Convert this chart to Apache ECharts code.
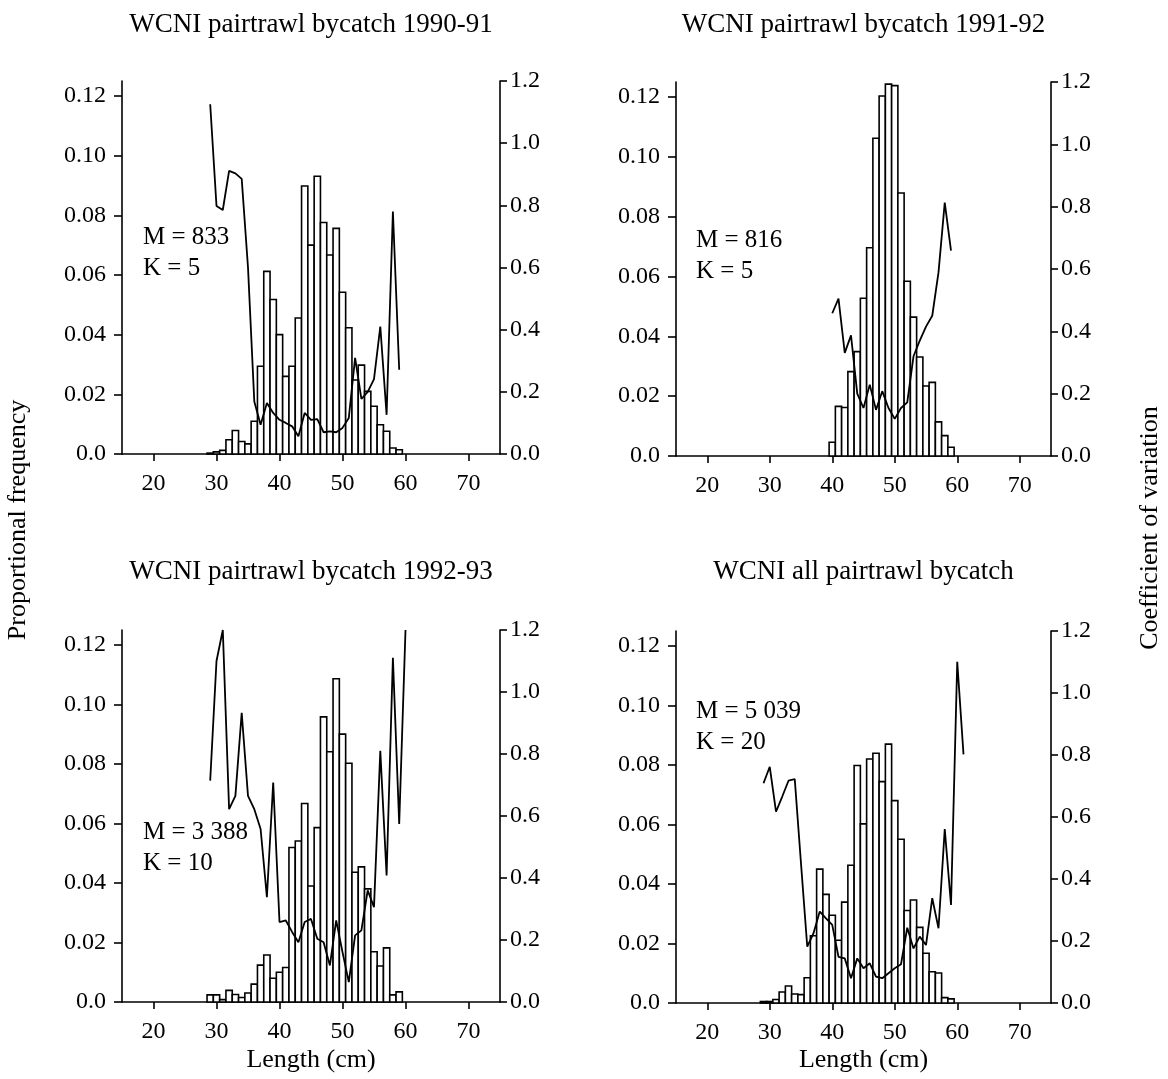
<!DOCTYPE html>
<html>
<head>
<meta charset="utf-8">
<script src="https://cdn.jsdelivr.net/npm/echarts@6/dist/echarts.min.js"></script>
<style>
html,body{margin:0;padding:0;background:#fff;}
#chart{width:1168px;height:1079px;}
</style>
</head>
<body>
<div id="chart"></div>
<script>
// ---------- data ----------
const titles = ['WCNI pairtrawl bycatch 1990-91', 'WCNI pairtrawl bycatch 1991-92',
                'WCNI pairtrawl bycatch 1992-93', 'WCNI all pairtrawl bycatch'];
const annotM = ['M = 833', 'M = 816', 'M = 3 388', 'M = 5 039'];
const annotK = ['K = 5', 'K = 5', 'K = 10', 'K = 20'];
const xTicks = [20, 30, 40, 50, 60, 70];
const freqTicks = [0, 0.02, 0.04, 0.06, 0.08, 0.10, 0.12];

// Panel 1 (1990-91)
const len1 = [29,30,31,32,33,34,35,36,37,38,39,40,41,42,43,44,45,46,47,48,49,50,51,52,53,54,55,56,57,58,59];
const freq1 = [0.0003,0.0007,0.0012,0.0048,0.0079,0.0042,0.0034,0.011,0.0294,0.0612,0.0518,0.040,0.026,0.0294,0.0456,0.0898,0.070,0.0931,0.0776,0.0667,0.0756,0.0542,0.0423,0.0248,0.0298,0.021,0.016,0.0098,0.0076,0.002,0.0014];
const cvLen1 = [29,30,31,32,33,34,35,36,37,38,39,40,41,42,43,44,45,46,47,48,49,50,51,52,53,54,55,56,57,58,59];
const cv1 = [1.125,0.798,0.785,0.911,0.903,0.885,0.60,0.169,0.094,0.164,0.132,0.110,0.100,0.089,0.057,0.132,0.110,0.112,0.070,0.073,0.070,0.084,0.116,0.309,0.177,0.200,0.241,0.410,0.126,0.780,0.271];

// Panel 2 (1991-92)
const len2 = [40,41,42,43,44,45,46,47,48,49,50,51,52,53,54,55,56,57,58,59];
const freq2 = [0.0046,0.0166,0.0162,0.0282,0.0349,0.0527,0.0696,0.1062,0.1203,0.1243,0.1238,0.0879,0.0584,0.0464,0.0331,0.0234,0.0246,0.0114,0.0068,0.0029];
const cvLen2 = [40,41,42,43,44,45,46,47,48,49,50,51,52,53,54,55,56,57,58,59];
const cv2 = [0.458,0.505,0.331,0.387,0.200,0.154,0.229,0.148,0.208,0.154,0.119,0.154,0.172,0.320,0.370,0.415,0.450,0.589,0.813,0.659];

// Panel 3 (1992-93)
const len3 = [29,30,31,32,33,34,35,36,37,38,39,40,41,42,43,44,45,46,47,48,49,50,51,52,53,54,55,56,57,58,59];
const freq3 = [0.0024,0.0024,0.0008,0.0039,0.0025,0.0015,0.003,0.006,0.0124,0.0158,0.008,0.010,0.0116,0.0519,0.0541,0.0667,0.039,0.0586,0.0958,0.0841,0.1086,0.090,0.0802,0.0436,0.0454,0.038,0.0169,0.0121,0.0182,0.0024,0.0034];
const cvLen3 = [29,30,31,32,33,34,35,36,37,38,39,40,41,42,43,44,45,46,47,48,49,50,51,52,53,54,55,56,57,58,59,60];
const cv3 = [0.714,1.100,1.200,0.622,0.665,0.933,0.665,0.622,0.558,0.338,0.708,0.258,0.263,0.226,0.193,0.258,0.268,0.204,0.193,0.118,0.263,0.161,0.064,0.215,0.231,0.360,0.306,0.810,0.408,1.110,0.574,1.200];

// Panel 4 (all)
const len4 = [29,30,31,32,33,34,35,36,37,38,39,40,41,42,43,44,45,46,47,48,49,50,51,52,53,54,55,56,57,58,59];
const freq4 = [0.0005,0.0005,0.0012,0.0037,0.0057,0.003,0.0028,0.0085,0.0226,0.045,0.0365,0.0295,0.0211,0.0339,0.0463,0.0798,0.0602,0.082,0.0839,0.0744,0.087,0.068,0.055,0.0311,0.0346,0.0254,0.0167,0.0105,0.0101,0.0018,0.0014];
const cvLen4 = [29,30,31,32,33,34,35,36,37,38,39,40,41,42,43,44,45,46,47,48,49,50,51,52,53,54,55,56,57,58,59,60,61];
const cv4 = [0.709,0.762,0.617,0.666,0.717,0.722,0.450,0.182,0.225,0.295,0.273,0.252,0.149,0.144,0.080,0.144,0.112,0.128,0.085,0.080,0.096,0.112,0.125,0.243,0.176,0.214,0.187,0.338,0.241,0.561,0.316,1.101,0.802];

// ---------- build ----------
const FONT = '"Liberation Serif", "Times New Roman", serif';
const panels = [
  {len: len1, freq: freq1, cvLen: cvLen1, cv: cv1},
  {len: len2, freq: freq2, cvLen: cvLen2, cv: cv2},
  {len: len3, freq: freq3, cvLen: cvLen3, cv: cv3},
  {len: len4, freq: freq4, cvLen: cvLen4, cv: cv4}
];
const grids = [
  {left: 122, top: 81, width: 378, height: 373},
  {left: 676, top: 82, width: 375, height: 374},
  {left: 122, top: 630, width: 378, height: 372},
  {left: 676, top: 631, width: 375, height: 372}
];
const axLine = {show: true, onZero: false, lineStyle: {color: '#000', width: 1.6}};
const tickStyle = {color: '#000', width: 1.6};
const labelBase = {color: '#000', fontFamily: FONT, fontSize: 24};

const xAxis = [], yAxis = [], series = [], graphic = [];
grids.forEach((g, i) => {
  xAxis.push({
    gridIndex: i, type: 'value', min: 15, max: 75,
    axisLine: axLine,
    axisTick: {show: true, length: 7, customValues: xTicks, lineStyle: tickStyle},
    axisLabel: Object.assign({customValues: xTicks, margin: 18}, labelBase),
    splitLine: {show: false}
  });
  yAxis.push({
    gridIndex: i, type: 'value', position: 'left', min: 0, max: 0.125,
    axisLine: axLine,
    axisTick: {show: true, length: 8, customValues: freqTicks, lineStyle: tickStyle},
    axisLabel: Object.assign({customValues: freqTicks, margin: 16,
      formatter: v => (v === 0 ? '0.0' : v.toFixed(2))}, labelBase),
    splitLine: {show: false}
  });
  yAxis.push({
    gridIndex: i, type: 'value', position: 'right', min: 0, max: 1.2, interval: 0.2,
    axisLine: axLine,
    axisTick: {show: true, length: 7, lineStyle: tickStyle},
    axisLabel: Object.assign({margin: 10, formatter: v => v.toFixed(1)}, labelBase),
    splitLine: {show: false}
  });
  const p = panels[i];
  series.push({
    type: 'custom', xAxisIndex: i, yAxisIndex: 2 * i,
    data: p.len.map((l, k) => [l, p.freq[k]]),
    encode: {x: 0, y: 1},
    renderItem: function (params, api) {
      const x = api.value(0), y = api.value(1);
      const a = api.coord([x - 0.5, y]);
      const b = api.coord([x + 0.5, 0]);
      return {type: 'rect', shape: {x: a[0], y: a[1], width: b[0] - a[0], height: b[1] - a[1]},
              style: {fill: '#fff', stroke: '#000', lineWidth: 1.6}};
    },
    z: 2
  });
  series.push({
    type: 'line', xAxisIndex: i, yAxisIndex: 2 * i + 1,
    data: p.cvLen.map((l, k) => [l, p.cv[k]]),
    showSymbol: false, symbol: 'none',
    lineStyle: {color: '#000', width: 1.8},
    z: 3, animation: false
  });
  const cx = g.left + g.width / 2;
  const titleY = i < 2 ? 25 : 572;
  graphic.push({type: 'text', style: {text: titles[i], x: cx, y: titleY, textAlign: 'center', textVerticalAlign: 'middle', font: '27px ' + FONT, fill: '#000'}});
  const mx = i % 2 === 0 ? 143 : 696;
  const my = [237, 240, 832, 711][i];
  graphic.push({type: 'text', style: {text: annotM[i], x: mx, y: my, textAlign: 'left', textVerticalAlign: 'middle', font: '25px ' + FONT, fill: '#000'}});
  graphic.push({type: 'text', style: {text: annotK[i], x: mx, y: my + 31, textAlign: 'left', textVerticalAlign: 'middle', font: '25px ' + FONT, fill: '#000'}});
  if (i >= 2) {
    graphic.push({type: 'text', style: {text: 'Length (cm)', x: cx, y: 1060, textAlign: 'center', textVerticalAlign: 'middle', font: '26px ' + FONT, fill: '#000'}});
  }
});
graphic.push({type: 'text', rotation: Math.PI / 2, x: 18, y: 520,
  style: {text: 'Proportional frequency', x: 0, y: 0, textAlign: 'center', textVerticalAlign: 'middle', font: '26px ' + FONT, fill: '#000'}});
graphic.push({type: 'text', rotation: Math.PI / 2, x: 1150, y: 528,
  style: {text: 'Coefficient of variation', x: 0, y: 0, textAlign: 'center', textVerticalAlign: 'middle', font: '26px ' + FONT, fill: '#000'}});

const chart = echarts.init(document.getElementById('chart'), null, {renderer: 'canvas'});
chart.setOption({
  animation: false,
  backgroundColor: '#fff',
  grid: grids,
  xAxis: xAxis,
  yAxis: yAxis,
  series: series,
  graphic: graphic
});
</script>
</body>
</html>
